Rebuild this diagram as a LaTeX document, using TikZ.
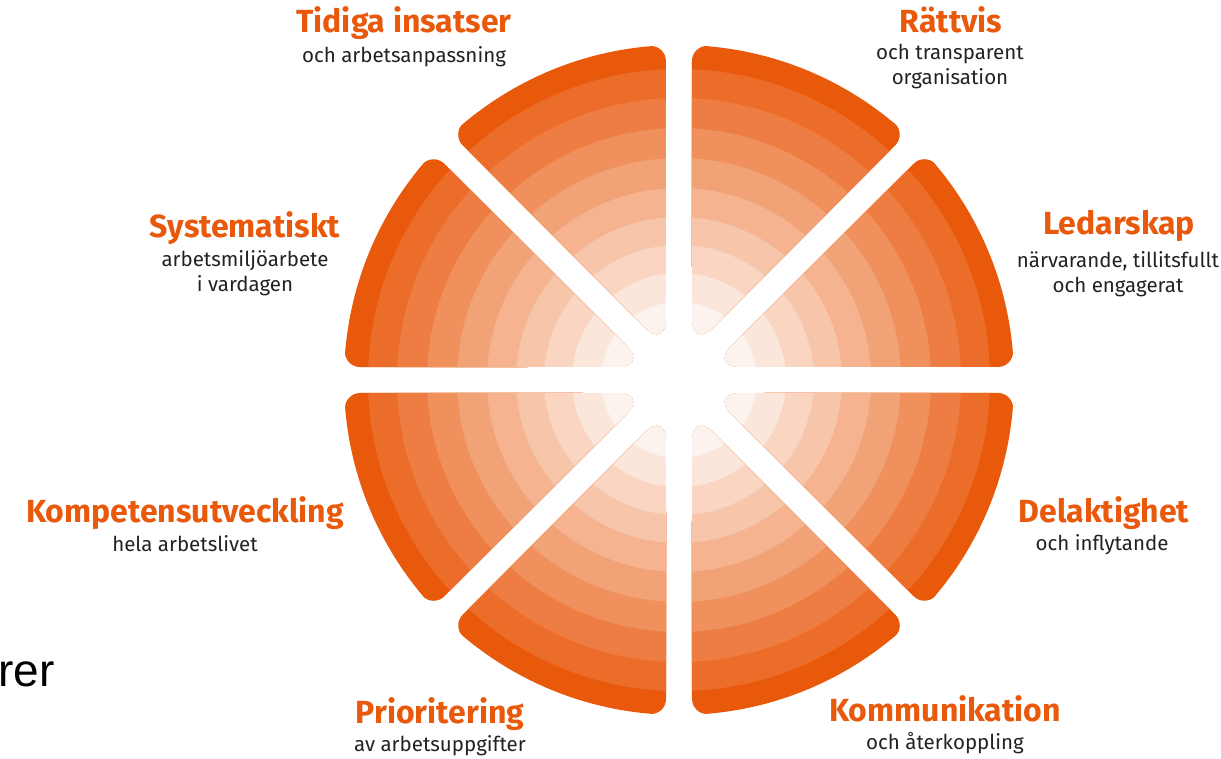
\documentclass[tikz,border=0pt]{standalone}
\usepackage{fontspec}
\setmainfont{Fira Sans}
\newfontfamily\rerfont{Liberation Sans}

\definecolor{kiorange}{HTML}{E8590C}
\definecolor{kitext}{HTML}{222222}

\begin{document}
\begin{tikzpicture}
  [x=1pt,y=1pt,
   ttl/.style={font=\fontsize{32}{36}\selectfont\bfseries,text=kiorange,anchor=base,inner sep=0pt},
   sub/.style={font=\fontsize{20.5}{25}\selectfont,text=kitext,anchor=base,align=center,inner sep=0pt}]
  \useasboundingbox (-679,-379) rectangle (542,380);

  % eight sectors with rings
  \foreach \i in {0,...,7}{
    \begin{scope}[rotate=45*\i]
      \clip[rounded corners=16pt] (150,13) -- (334.7,13)
        arc[start angle=2.22,end angle=42.78,radius=335] -- (115.26,96.88)
        [rounded corners=30pt] -- (22.5:34) -- cycle;
      \foreach \r/\p in {335/100,311/88,282/78,252/67,222/56,192/46,163/35,135/25,107/15,78/7}
        \fill[kiorange!\p!white] (0,0) circle (\r);
    \end{scope}
  }

  \node[ttl] (tidiga) at (-275,347) {Tidiga insatser};
  \node[sub] (tidigasub) at (-275,317) {och arbetsanpassning};

  \node[ttl] (rattvis) at (272,347) {Rättvis};
  \node[sub] (rattvissub) at (271,295) {och transparent\\organisation};

  \node[ttl] (system) at (-434,142) {Systematiskt};
  \node[sub] (systemsub) at (-434,88) {arbetsmiljöarbete\\i vardagen};

  \node[ttl] (ledar) at (440,145) {Ledarskap};
  \node[sub] (ledarsub) at (439,87) {närvarande, tillitsfullt\\och engagerat};

  \node[ttl] (kompetens) at (-494,-143) {Kompetensutveckling};
  \node[sub] (kompetenssub) at (-494,-172) {hela arbetslivet};

  \node[ttl] (delakt) at (425,-143) {Delaktighet};
  \node[sub] (delaktsub) at (423,-171) {och inflytande};

  \node[ttl] (prio) at (-239,-344) {Prioritering};
  \node[sub] (priosub) at (-239,-372) {av arbetsuppgifter};

  \node[ttl] (komm) at (266,-342) {Kommunikation};
  \node[sub] (kommsub) at (266,-370) {och återkoppling};

  \node[font=\rerfont\fontsize{46}{50}\selectfont,anchor=base west,inner sep=0pt] (rer) at (-681,-307) {rer};
\end{tikzpicture}
\end{document}
